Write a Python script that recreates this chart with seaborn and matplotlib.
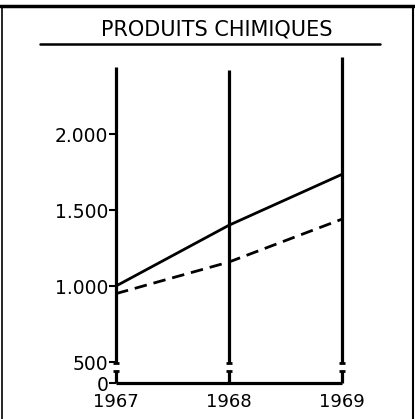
import matplotlib
matplotlib.use("Agg")
import matplotlib.pyplot as plt
from matplotlib.lines import Line2D
import seaborn as sns
import pandas as pd
import numpy as np

# valeurs
YEARS = [1967, 1968, 1969]
SERIE_PLEINE = [1000, 1400, 1735]
SERIE_TIRETS = [950, 1158, 1440]
Y_TICKS = [0, 500, 1000, 1500, 2000]
Y_LABELS = ["0", "500", "1.000", "1.500", "2.000"]
TITRE = "PRODUITS CHIMIQUES"

W, H = 415, 419

# echelle coupee : la tranche 0-500 est comprimee
_vals = [0, 500, 3000]
_pos = [0, 21, 401]


def fwd(y):
    return np.interp(y, _vals, _pos)


def inv(p):
    return np.interp(p, _pos, _vals)


def build_chart():
    sns.set_style("white")
    plt.rcParams["font.family"] = ["DejaVu Sans"]
    plt.rcParams["text.color"] = "black"
    plt.rcParams["xtick.color"] = "black"
    plt.rcParams["ytick.color"] = "black"

    fig = plt.figure(figsize=(W / 100, H / 100), dpi=100)
    ax = fig.add_axes([116 / W, 1 - 383 / H, (342 - 116) / W, (383 - 57) / H])
    ax.set_yscale("function", functions=(fwd, inv))

    df = pd.DataFrame({
        "annee": YEARS * 2,
        "valeur": SERIE_PLEINE + SERIE_TIRETS,
        "serie": ["a"] * 3 + ["b"] * 3,
    })
    sns.lineplot(data=df, x="annee", y="valeur", style="serie",
                 dashes={"a": "", "b": (4.5, 2.5)}, color="black",
                 linewidth=2.0, legend=False, ax=ax)

    # barres verticales avec coupure
    tops = [2440, 2420, 2507]
    for yr, top in zip(YEARS, tops):
        ax.vlines(yr, 470, top, color="black", lw=2.3, clip_on=False)
        ax.vlines(yr, 0, 290, color="black", lw=2.3, clip_on=False)
        ax.hlines([470, 290], yr - 0.025, yr + 0.025, color="black", lw=2,
                  clip_on=False)
    ax.hlines(0, YEARS[0], YEARS[-1], color="black", lw=2.3, clip_on=False)

    ax.set_xlim(1967, 1969)
    ax.set_ylim(0, 2507)
    for s in ax.spines.values():
        s.set_visible(False)
    ax.set_xticks(YEARS)
    ax.set_xticklabels([str(y) for y in YEARS], fontsize=13, color="black")
    ax.set_yticks(Y_TICKS)
    ax.set_yticklabels(Y_LABELS, fontsize=13.5, color="black")
    ax.minorticks_off()
    ax.tick_params(axis="x", length=0, pad=7)
    ax.tick_params(axis="y", length=5, width=1.5, pad=0.5, left=True, color="black")
    ax.set_xlabel("")
    ax.set_ylabel("")
    ax.patch.set_alpha(0)

    # cadre et titre
    fig.add_artist(Line2D([0, 1], [1 - 6 / H, 1 - 6 / H], color="black", lw=2.5,
                          transform=fig.transFigure))
    fig.add_artist(Line2D([2 / W, 2 / W], [0, 1 - 6 / H], color="black", lw=1.2,
                          transform=fig.transFigure))
    fig.add_artist(Line2D([413 / W, 413 / W], [0, 1 - 6 / H], color="black", lw=1.5,
                          transform=fig.transFigure))
    fig.add_artist(Line2D([40 / W, 380 / W], [1 - 44 / H, 1 - 44 / H], color="black",
                          lw=1.8, transform=fig.transFigure))
    fig.text(217 / W, 1 - 29 / H, TITRE, ha="center", va="center", fontsize=15,
             color="black")

    fig.savefig("out.png", dpi=100)


if __name__ == "__main__":
    build_chart()
